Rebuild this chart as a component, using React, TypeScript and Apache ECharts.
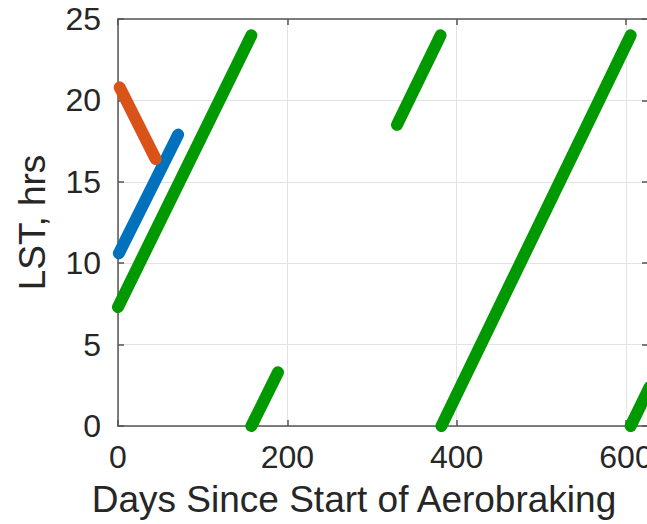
import React, { useEffect, useRef } from "react";
import * as echarts from "echarts";

// Days since start of aerobraking vs LST (hrs)
const blueDays = [1, 71];
const blueLST = [10.6, 17.9];
const orangeDays = [2, 44.5];
const orangeLST = [20.8, 16.4];
const greenSeg1Days = [0, 157.5];
const greenSeg1LST = [7.3, 24];
const greenSeg2Days = [157.5, 189];
const greenSeg2LST = [0, 3.3];
const greenSeg3Days = [329.5, 381];
const greenSeg3LST = [18.5, 24];
const greenSeg4Days = [382, 605.5];
const greenSeg4LST = [0, 24];
const greenSeg5Days = [605.5, 628];
const greenSeg5LST = [0, 2.4];

const xTicks = [0, 200, 400, 600];
const yTicks = [0, 5, 10, 15, 20, 25];

const FONT = "'Liberation Sans', Arial, Helvetica, sans-serif";
const TEXT = "#262626";
const AXIS = "#555555";
const GRID = "#e3e3e3";

const zip = (xs: number[], ys: number[]) => xs.map((x, i) => [x, ys[i]]);

export default function App() {
  const ref = useRef<HTMLDivElement>(null);
  useEffect(() => {
    if (!ref.current) return;
    const chart = echarts.init(ref.current, null, { renderer: "svg" });
    const mkLine = (name: string, xs: number[], ys: number[], color: string) => ({
      type: "line",
      name,
      data: zip(xs, ys),
      showSymbol: false,
      symbol: "none",
      clip: false,
      lineStyle: { color, width: 12, cap: "round", join: "round" },
      itemStyle: { color },
      z: 3,
    });
    const axisCommon = {
      min: 0,
      axisLine: { show: true, onZero: false, lineStyle: { color: AXIS, width: 1.5 } },
      axisTick: { show: true, inside: true, length: 6, lineStyle: { color: AXIS, width: 1.5 } },
    };
    chart.setOption({
      animation: false,
      backgroundColor: "#ffffff",
      grid: { left: 118, top: 19, right: 2, bottom: 98, containLabel: false, outerBoundsMode: "none" },
      xAxis: [
        {
          ...axisCommon,
          type: "value",
          position: "bottom",
          max: 626,
          interval: 200,
          axisLabel: {
            show: true,
            margin: 15,
            fontSize: 32,
            color: TEXT,
            fontFamily: FONT,
            showMaxLabel: false,
            formatter: (v: number) => (xTicks.includes(v) ? String(v) : ""),
          },
          splitLine: { show: true, lineStyle: { color: GRID, width: 1 } },
          name: "Days Since Start of Aerobraking",
          nameLocation: "middle",
          nameGap: 55,
          nameTextStyle: { fontSize: 37, color: TEXT, fontFamily: FONT, padding: [0, 58, 0, 0] },
        },
        {
          ...axisCommon,
          type: "value",
          position: "top",
          max: 626,
          interval: 200,
          axisLabel: { show: false },
          splitLine: { show: false },
        },
      ],
      yAxis: [
        {
          ...axisCommon,
          type: "value",
          position: "left",
          max: 25,
          interval: 5,
          axisLabel: {
            show: true,
            margin: 17,
            fontSize: 32,
            color: TEXT,
            fontFamily: FONT,
            formatter: (v: number) => (yTicks.includes(v) ? String(v) : ""),
          },
          splitLine: { show: true, lineStyle: { color: GRID, width: 1 } },
          name: "LST, hrs",
          nameLocation: "middle",
          nameGap: 67,
          nameTextStyle: { fontSize: 37, color: TEXT, fontFamily: FONT },
        },
        {
          ...axisCommon,
          type: "value",
          position: "right",
          max: 25,
          interval: 5,
          axisLabel: { show: false },
          splitLine: { show: false },
        },
      ],
      series: [
        mkLine("Blue", blueDays, blueLST, "#0072BD"),
        mkLine("Orange", orangeDays, orangeLST, "#D95319"),
        mkLine("Green 1", greenSeg1Days, greenSeg1LST, "#009900"),
        mkLine("Green 2", greenSeg2Days, greenSeg2LST, "#009900"),
        mkLine("Green 3", greenSeg3Days, greenSeg3LST, "#009900"),
        mkLine("Green 4", greenSeg4Days, greenSeg4LST, "#009900"),
        mkLine("Green 5", greenSeg5Days, greenSeg5LST, "#009900"),
      ],
    });
    return () => chart.dispose();
  }, []);
  return (
    <div
      ref={ref}
      style={{ position: "fixed", left: 0, top: 0, width: 650, height: 524, background: "#fff" }}
    />
  );
}
